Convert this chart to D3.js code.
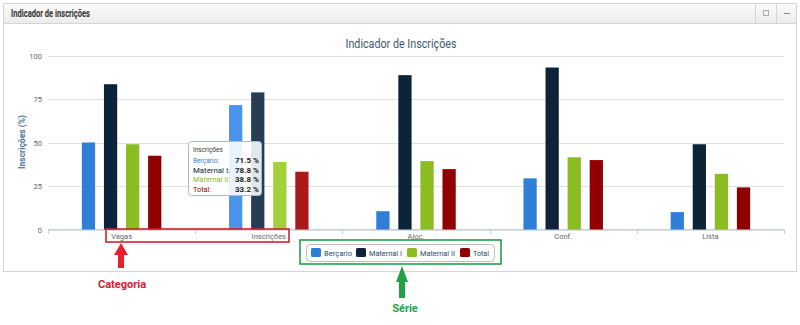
<!DOCTYPE html>
<html lang="pt">
  <head>
    <meta charset="utf-8" />
    <title>Indicador de inscrições</title>
    <script src="https://cdn.jsdelivr.net/npm/d3@7"></script>
    <style>
      body { margin: 0; background: #fff; font-family: Roboto, "DejaVu Sans", sans-serif; }
    </style>
  </head>
  <body>
    <script>
      var categories = ["Vagas", "Inscrições", "Aloc.", "Conf.", "Lista"];
      var seriesNames = ["Berçario", "Maternal I", "Maternal II", "Total"];
      var colors = ["#2f7ed8", "#0d233a", "#8bbc21", "#910000"];
      var hoverColors = ["#4a95eb", "#273d54", "#a3d13a", "#ab1a1a"];
      var bercario = [50, 71.5, 10.5, 29.4, 10.0];
      var maternal1 = [83.5, 78.8, 88.7, 93.1, 49.0];
      var maternal2 = [49.0, 38.8, 39.3, 41.5, 32.0];
      var total = [42.4, 33.2, 34.7, 39.9, 24.2];
      var yTicks = [0, 25, 50, 75, 100];
      var hoverIndex = 1;

      var values = [bercario, maternal1, maternal2, total];
      var w = 800, h = 325;

      var svg = d3.select("body").append("svg")
        .attr("width", w).attr("height", h);

      // panel frame
      var grad = svg.append("defs").append("linearGradient")
        .attr("id", "hdr").attr("x1", 0).attr("x2", 0).attr("y1", 0).attr("y2", 1);
      grad.append("stop").attr("offset", "0%").attr("stop-color", "#fbfbfb");
      grad.append("stop").attr("offset", "100%").attr("stop-color", "#ececec");

      svg.append("rect").attr("x", 3.5).attr("y", 3.5).attr("width", 793).attr("height", 268)
        .attr("fill", "#fff").attr("stroke", "#d4d4d4");
      svg.append("rect").attr("x", 4).attr("y", 4).attr("width", 792).attr("height", 19)
        .attr("fill", "url(#hdr)");
      svg.append("line").attr("x1", 4).attr("x2", 796).attr("y1", 23.5).attr("y2", 23.5)
        .attr("stroke", "#d4d4d4");
      svg.append("text").attr("x", 11).attr("y", 16.5)
        .attr("font-size", "11px").attr("font-weight", "bold").attr("fill", "#333")
        .attr("textLength", 79).attr("lengthAdjust", "spacingAndGlyphs")
        .text("Indicador de inscrições");
      [755.5, 776.5].forEach(function (x) {
        svg.append("line").attr("x1", x).attr("x2", x).attr("y1", 4).attr("y2", 23)
          .attr("stroke", "#d4d4d4");
      });
      svg.append("rect").attr("x", 763.5).attr("y", 10.5).attr("width", 5).attr("height", 5)
        .attr("fill", "none").attr("stroke", "#aaa");
      svg.append("line").attr("x1", 784).attr("x2", 790).attr("y1", 13.5).attr("y2", 13.5)
        .attr("stroke", "#888");

      // chart
      var x0 = d3.scaleBand().domain(categories).range([48, 784])
        .paddingInner(0.4).paddingOuter(0.2);
      var x1 = d3.scaleBand().domain(seriesNames).range([0, x0.bandwidth()])
        .paddingInner(0.4).paddingOuter(0.2);
      var y = d3.scaleLinear().domain([0, 100]).range([229.5, 55.5]);

      svg.append("text").attr("x", 401).attr("y", 48).attr("text-anchor", "middle")
        .attr("font-size", "12px").attr("fill", "#3e576f")
        .attr("textLength", 111).attr("lengthAdjust", "spacingAndGlyphs")
        .text("Indicador de Inscrições");

      var grid = svg.append("g");
      grid.selectAll("line").data(yTicks).enter().append("line")
        .attr("x1", 48).attr("x2", 784)
        .attr("y1", function (d) { return Math.round(y(d)) + 0.5; })
        .attr("y2", function (d) { return Math.round(y(d)) + 0.5; })
        .attr("stroke", "#e0e0e0");
      grid.selectAll("text").data(yTicks).enter().append("text")
        .attr("x", 42).attr("y", function (d) { return y(d) + 3; })
        .attr("text-anchor", "end").attr("font-size", "7.5px").attr("fill", "#666")
        .text(function (d) { return d; });

      svg.append("text")
        .attr("transform", "translate(25,142) rotate(-90)")
        .attr("text-anchor", "middle").attr("font-size", "8.5px").attr("font-weight", "bold")
        .attr("fill", "#4d759e").text("Inscrições (%)");

      // x axis
      var xa = svg.append("g");
      xa.append("line").attr("x1", 48).attr("x2", 784).attr("y1", 229.5).attr("y2", 229.5)
        .attr("stroke", "#c0d0e0");
      var edges = categories.map(function (c) { return x0(c) - x0.step() * 0.2; });
      edges.push(784);
      xa.selectAll("line.tk").data(edges).enter().append("line").attr("class", "tk")
        .attr("x1", function (d) { return Math.round(d) + 0.5; })
        .attr("x2", function (d) { return Math.round(d) + 0.5; })
        .attr("y1", 229.5).attr("y2", 234).attr("stroke", "#c0d0e0");
      xa.selectAll("text").data(categories).enter().append("text")
        .attr("x", function (d) { return x0(d) + x0.bandwidth() / 2; })
        .attr("y", 239).attr("text-anchor", "middle")
        .attr("font-size", "7.5px").attr("fill", "#666")
        .text(function (d) { return d; });

      // bars
      var groups = svg.append("g").selectAll("g").data(categories).enter().append("g")
        .attr("transform", function (d) { return "translate(" + x0(d) + ",0)"; });
      groups.selectAll("rect")
        .data(function (c, ci) {
          return seriesNames.map(function (s, si) {
            return { s: s, si: si, ci: ci, v: values[si][ci] };
          });
        })
        .enter().append("rect")
        .attr("x", function (d) { return x1(d.s); })
        .attr("width", x1.bandwidth())
        .attr("y", function (d) { return y(d.v); })
        .attr("height", function (d) { return y(0) - y(d.v); })
        .attr("fill", function (d) { return d.ci === hoverIndex ? hoverColors[d.si] : colors[d.si]; });

      // tooltip
      var tt = svg.append("g").attr("transform", "translate(188,141)");
      tt.append("rect").attr("x", 0.5).attr("y", 0.5).attr("width", 73).attr("height", 54)
        .attr("rx", 3).attr("fill", "rgba(255,255,255,0.88)").attr("stroke", "#a9bcd0");
      tt.append("text").attr("x", 5).attr("y", 11).attr("font-size", "6.5px").attr("fill", "#333")
        .text(categories[hoverIndex]);
      var labW = [26, 37, 37, 18];
      seriesNames.forEach(function (s, i) {
        tt.append("text").attr("x", 5).attr("y", 22 + i * 9.5).attr("font-size", "7.5px")
          .attr("fill", colors[i]).attr("textLength", labW[i]).attr("lengthAdjust", "spacingAndGlyphs")
          .text(s + ":");
        tt.append("text").attr("x", 71).attr("y", 22 + i * 9.5).attr("font-size", "8px")
          .attr("text-anchor", "end").attr("font-weight", "bold").attr("fill", "#222")
          .text(values[i][hoverIndex].toFixed(1) + " %");
      });

      // legend
      var lg = svg.append("g");
      lg.append("rect").attr("x", 306.5).attr("y", 244.5).attr("width", 188).attr("height", 17)
        .attr("rx", 4).attr("fill", "#fff").attr("stroke", "#bbb");
      var lx = [311, 356, 407, 460];
      var lw = [28, 33, 35, 16];
      seriesNames.forEach(function (s, i) {
        lg.append("rect").attr("x", lx[i]).attr("y", 248).attr("width", 10).attr("height", 9)
          .attr("rx", 1.5).attr("fill", colors[i]);
        lg.append("text").attr("x", lx[i] + 13).attr("y", 255.5)
          .attr("font-size", "7.5px").attr("fill", "#274b6d")
          .attr("textLength", lw[i]).attr("lengthAdjust", "spacingAndGlyphs").text(s);
      });

      // annotations
      svg.append("rect").attr("x", 106).attr("y", 229).attr("width", 183).attr("height", 13)
        .attr("fill", "none").attr("stroke", "#d42030").attr("stroke-width", 1.6);
      svg.append("path").attr("d", "M121,243 L128,255 L124,255 L124,268 L118,268 L118,255 L114,255 Z")
        .attr("fill", "#e8202e");
      svg.append("text").attr("x", 122).attr("y", 288).attr("text-anchor", "middle")
        .attr("font-size", "11px").attr("font-weight", "bold").attr("fill", "#d42030")
        .text("Categoria");

      svg.append("rect").attr("x", 300).attr("y", 240).attr("width", 201).attr("height", 24)
        .attr("fill", "none").attr("stroke", "#22a046").attr("stroke-width", 1.6);
      svg.append("path").attr("d", "M402,266 L408,282 L405,282 L405,298 L399,298 L399,282 L396,282 Z")
        .attr("fill", "#22a046");
      svg.append("text").attr("x", 405).attr("y", 312).attr("text-anchor", "middle")
        .attr("font-size", "11px").attr("font-weight", "bold").attr("fill", "#22a046")
        .text("Série");
    </script>
  </body>
</html>
